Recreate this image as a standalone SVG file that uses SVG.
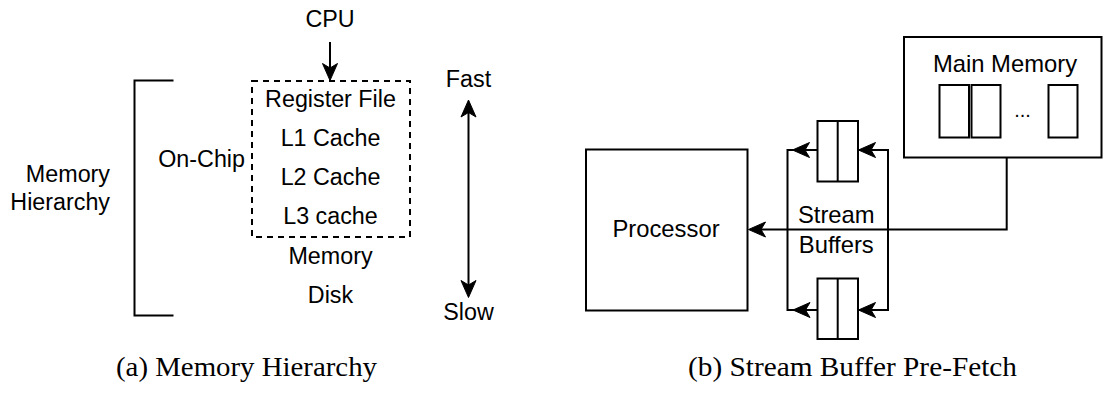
<svg xmlns="http://www.w3.org/2000/svg" xmlns:xlink="http://www.w3.org/1999/xlink" width="1103" height="395" viewBox="0 0 1103 395">
  <style>
    .lbl { font-family: "Liberation Sans", Arial, sans-serif; font-size: 23.3px; fill: #000; }
    .lblb { font-family: "Liberation Sans", Arial, sans-serif; font-size: 23.8px; fill: #000; }
    .mid { text-anchor: middle; }
    .end { text-anchor: end; }
    .cap { font-family: "Liberation Serif", "Times New Roman", serif; font-size: 27px; fill: #000; text-anchor: middle; }
    .box { fill: #fff; stroke: #000; stroke-width: 2; }
    .line { fill: none; stroke: #000; stroke-width: 2; }
    .dash { fill: none; stroke: #000; stroke-width: 2; stroke-dasharray: 6 5; }
  </style>
  <defs>
    <!-- arrowhead with its tip at the origin, pointing along +x -->
    <path id="head" d="M0,0 L-17,-7.5 L-12.5,0 L-17,7.5 Z" fill="#000" stroke="#000" stroke-width="1" stroke-linejoin="miter"/>
  </defs>

  <!-- (a) memory hierarchy -->
  <g id="cpu">
    <text class="lbl mid" x="330" y="27.3">CPU</text>
  </g>
  <g id="on-chip">
    <rect class="dash" x="252" y="81" width="158" height="156"/>
    <text class="lbl end" x="245" y="166.7">On-Chip</text>
  </g>
  <g id="levels">
    <text class="lbl mid" x="330.5" y="106.5">Register File</text>
    <text class="lbl mid" x="330.5" y="145.8">L1 Cache</text>
    <text class="lbl mid" x="330.5" y="185">L2 Cache</text>
    <text class="lbl mid" x="330.5" y="224.3">L3 cache</text>
    <text class="lbl mid" x="330.5" y="263.5">Memory</text>
    <text class="lbl mid" x="330.5" y="302.8">Disk</text>
  </g>
  <g id="hierarchy">
    <path class="line" d="M173.5,80.5 H134.5 V315.5 H173.5"/>
    <text class="lbl end" x="110" y="181.7">Memory</text>
    <text class="lbl end" x="110" y="210">Hierarchy</text>
  </g>
  <g id="speed">
    <text class="lbl mid" x="468.5" y="86.7">Fast</text>
    <text class="lbl mid" x="468.5" y="320">Slow</text>
  </g>

  <!-- (b) stream buffer pre-fetch -->
  <g id="processor">
    <rect class="box" x="586" y="149.5" width="161.5" height="161"/>
    <text class="lblb mid" x="666" y="236.7">Processor</text>
  </g>
  <g id="main-memory">
    <rect class="box" x="904" y="37" width="197.5" height="120.5"/>
    <text class="lblb mid" x="1005" y="71.7">Main Memory</text>
    <rect class="box" x="939.5" y="85" width="29.5" height="52.5"/>
    <rect class="box" x="971.5" y="85" width="29" height="52.5"/>
    <text class="lblb mid" x="1022.5" y="117" style="font-size:20px">...</text>
    <rect class="box" x="1048.5" y="85" width="29" height="52.5"/>
  </g>
  <g id="buffer-top">
    <rect class="box" x="817.5" y="121" width="40.5" height="60.5"/>
    <line class="line" x1="837.7" y1="121" x2="837.7" y2="181.5"/>
  </g>
  <g id="buffer-bottom">
    <rect class="box" x="817.5" y="278.5" width="40.5" height="60.5"/>
    <line class="line" x1="837.7" y1="278.5" x2="837.7" y2="339"/>
  </g>
  <g id="stream-label">
    <text class="lblb mid" x="836.3" y="222.7">Stream</text>
    <text class="lblb mid" x="836.3" y="252.7">Buffers</text>
  </g>

  <g id="connectors">
    <!-- CPU into register file -->
    <line class="line" x1="330" y1="42" x2="330" y2="72"/>
    <use xlink:href="#head" transform="translate(330,80.5) rotate(90)"/>
    <!-- fast / slow scale -->
    <line class="line" x1="468.5" y1="108" x2="468.5" y2="290"/>
    <use xlink:href="#head" transform="translate(468.5,100) rotate(-90)"/>
    <use xlink:href="#head" transform="translate(468.5,297.5) rotate(90)"/>
    <!-- main memory to processor -->
    <path class="line" d="M1006.7,157.5 V229.5 H756"/>
    <use xlink:href="#head" transform="translate(748.5,229.5) rotate(180)"/>
    <!-- buffer output loop -->
    <path class="line" d="M817.5,150 H787.5 V310 H817.5"/>
    <use xlink:href="#head" transform="translate(792.5,150) rotate(180)"/>
    <use xlink:href="#head" transform="translate(793,310) rotate(180)"/>
    <!-- buffer input loop -->
    <path class="line" d="M858,150 H888 V310 H858"/>
    <use xlink:href="#head" transform="translate(858.5,150) rotate(180)"/>
    <use xlink:href="#head" transform="translate(858.5,310) rotate(180)"/>
  </g>

  <g id="captions">
    <text class="cap" x="246.5" y="376" textLength="261" lengthAdjust="spacingAndGlyphs">(a) Memory Hierarchy</text>
    <text class="cap" x="852.5" y="376" textLength="329" lengthAdjust="spacingAndGlyphs">(b) Stream Buffer Pre-Fetch</text>
  </g>
</svg>
